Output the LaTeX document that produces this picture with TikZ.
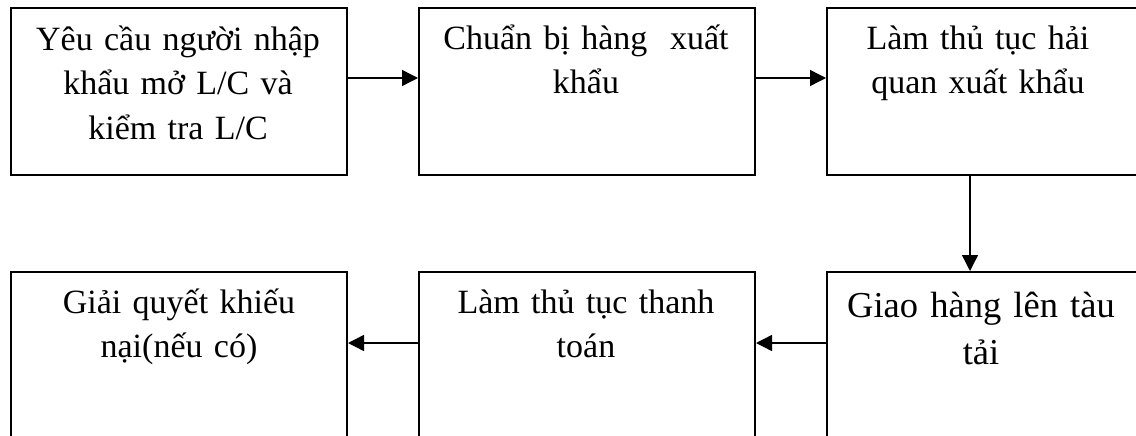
\documentclass[tikz,border=0pt]{standalone}
\usepackage{fontspec}
\setmainfont{Liberation Serif}
\usetikzlibrary{arrows.meta}
\tikzset{
  boxst/.style={draw=black, line width=2pt, inner sep=0pt},
  txt/.style={anchor=base, align=center, text width=330pt, inner sep=0pt,
    font=\fontsize{34}{44.5}\selectfont},
  bigtxt/.style={txt, font=\fontsize{36.5}{47}\selectfont},
  conn/.style={line width=1.4pt, -{Triangle[length=16pt,width=16pt]}}
}
\begin{document}
\begin{tikzpicture}[x=1pt,y=1pt]
\useasboundingbox (0,0) rectangle (1136,-436);
\clip (0,0) rectangle (1136,-436);
% boxes
\node[boxst, minimum width=336.5pt, minimum height=167pt, anchor=north west] (b1) at (9.5,-7) {};
\node[boxst, minimum width=336pt, minimum height=167pt, anchor=north west] (b2) at (418,-7) {};
\node[boxst, minimum width=340pt, minimum height=167pt, anchor=north west] (b3) at (826,-7) {};
\node[boxst, minimum width=336.5pt, minimum height=190pt, anchor=north west] (b4) at (9.5,-271) {};
\node[boxst, minimum width=336pt, minimum height=190pt, anchor=north west] (b5) at (418,-271) {};
\node[boxst, minimum width=340pt, minimum height=190pt, anchor=north west] (b6) at (826,-271) {};
% texts
\node[txt] (t1) at (178,-50.5) {Yêu cầu người nhập\\khẩu mở L/C và\\kiểm tra L/C};
\node[txt] (t2) at (586,-49.5) {Chuẩn bị hàng\ \ xuất\\khẩu};
\node[txt] (t3) at (978,-49.5) {Làm thủ tục hải\\quan xuất khẩu};
\node[txt] (t4) at (179,-313) {Giải quyết khiếu\\nại(nếu có)};
\node[txt] (t5) at (586,-313) {Làm thủ tục thanh\\toán};
\node[bigtxt] (t6) at (981,-317) {Giao hàng lên tàu\\tải};
% connectors
\coordinate (c1) at (346,-78);
\coordinate (c2) at (754,-78);
\coordinate (c3) at (970,-174);
\coordinate (c4) at (826,-343);
\coordinate (c5) at (418,-343);
\draw[conn] (c1) -- (c1 -| b2.west);
\draw[conn] (c2) -- (c2 -| b3.west);
\draw[conn] (c3) -- (c3 |- b6.north);
\draw[conn] (c4) -- (c4 -| b5.east);
\draw[conn] (c5) -- (c5 -| b4.east);
\end{tikzpicture}
\end{document}
